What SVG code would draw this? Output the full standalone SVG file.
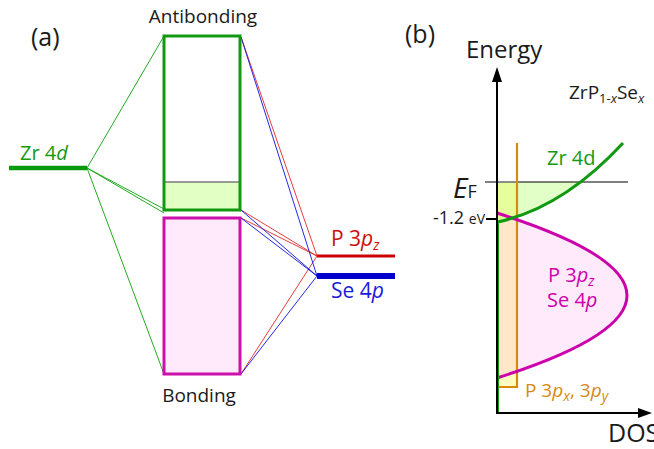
<svg xmlns="http://www.w3.org/2000/svg" width="654" height="449" viewBox="0 0 654 449">
<defs>
<style>
text{font-family:"Open Sans","Noto Sans","Liberation Sans",sans-serif;}
.lbl{font-size:19px;fill:#1a1a1a;}
.g{stroke:#22aa22;stroke-width:1;fill:none;}
.r{stroke:#e02828;stroke-width:0.9;fill:none;}
.b{stroke:#1010dd;stroke-width:0.9;fill:none;}
.ax{stroke:#000;stroke-width:2;fill:none;}
</style>
</defs>
<rect width="654" height="449" fill="#fff"/>
<text x="31" y="46" style="font-size:25px" fill="#1a1a1a">(a)</text>
<text x="405" y="43" style="font-size:25px" fill="#1a1a1a">(b)</text>

<g id="connectors">
<path class="g" d="M87,168 L164,36 M87,168 L164,209 M87,168 L164,213 M87,168 L164,374"/>
<path class="r" d="M241,37 L317,256 M241,210 L317,256 M241,218 L317,256 M241,374 L317,256"/>
<path class="b" d="M241,37 L317,276 M241,210 L317,276 M241,218 L317,276 M241,374 L317,276"/>
</g>

<g id="zr4d">
<line x1="9" y1="168" x2="87" y2="168" stroke="#0a990a" stroke-width="4.5"/>
<text x="20" y="160" style="font-size:20px" fill="#149a14">Zr 4<tspan font-style="italic">d</tspan></text>
</g>

<g id="antibonding">
<rect x="164" y="182" width="76" height="28" fill="#e2ffc4"/>
<line x1="164" y1="182" x2="240" y2="182" stroke="#7a7a7a" stroke-width="1.5"/>
<rect x="164" y="36" width="76" height="174" fill="none" stroke="#119911" stroke-width="3"/>
<text x="203" y="23" class="lbl" text-anchor="middle">Antibonding</text>
</g>

<g id="bonding">
<rect x="164" y="218" width="76" height="156" fill="#feeafb" stroke="#cc11aa" stroke-width="3"/>
<text x="199" y="402" class="lbl" text-anchor="middle">Bonding</text>
</g>

<g id="p3pz">
<line x1="317" y1="256" x2="395" y2="256" stroke="#cc0000" stroke-width="3"/>
<text x="331" y="246" style="font-size:21px" fill="#cc1010">P 3<tspan font-style="italic">p</tspan><tspan font-style="italic" font-size="14" dy="4">z</tspan></text>
</g>

<g id="se4p">
<line x1="317" y1="276" x2="395" y2="276" stroke="#0000cc" stroke-width="6"/>
<text x="331" y="298" style="font-size:21px" fill="#1a1add">Se 4<tspan font-style="italic">p</tspan></text>
</g>

<g id="dos">
<rect x="497" y="182" width="20" height="205" fill="#ffffc0"/>
<path d="M497,213 Q757,295.5 497,378 Z" fill="#feeafb"/>
<path d="M497,213 L517,219.5 L517,372 L497,378 Z" fill="#ffe8c8"/>
<path d="M497,182 L584,182 C560,197 535,211 517,217 C508,219 502,221 497,222 Z" fill="#e2ffc8"/>
<path d="M497,182 L517,182 L517,217 C508,219 502,221 497,222 Z" fill="#e6ff9c"/>
<line x1="485" y1="182" x2="628" y2="182" stroke="#000" stroke-width="1.2"/>
<line x1="497" y1="182" x2="517" y2="182" stroke="#999" stroke-width="1.2"/>
<path d="M517,143 L517,387 L497,387" fill="none" stroke="#d68a10" stroke-width="2.2"/>
<path d="M497,213 Q757,295.5 497,378" fill="none" stroke="#cc00aa" stroke-width="3"/>
<path d="M497.5,412 L497.5,222 C530,215 575,195 623,143" fill="none" stroke="#119911" stroke-width="3"/>
<line x1="497.5" y1="222" x2="497.5" y2="412" stroke="#22aa22" stroke-width="1.5"/>
<line x1="497" y1="413" x2="497" y2="80" class="ax"/>
<path d="M497,67 L502,82 L492,82 Z" fill="#000"/>
<line x1="496" y1="413" x2="640" y2="413" class="ax"/>
<path d="M652,413 L638,408 L638,418 Z" fill="#000"/>
<line x1="486" y1="219" x2="497" y2="219" stroke="#000" stroke-width="2"/>
<text x="466" y="58" style="font-size:24px" fill="#1a1a1a">Energy</text>
<text x="608" y="442" style="font-size:25px" fill="#1a1a1a">DOS</text>
<text x="569" y="99" style="font-size:19px" fill="#1a1a1a">ZrP<tspan font-size="13" dy="4">1-</tspan><tspan font-size="13" font-style="italic">x</tspan><tspan dy="-4">Se</tspan><tspan font-size="13" font-style="italic" dy="4">x</tspan></text>
<text x="453" y="198" style="font-size:28px;font-style:italic" fill="#1a1a1a">E<tspan font-style="normal" font-size="18">F</tspan></text>
<text x="485" y="224" text-anchor="end" fill="#1a1a1a"><tspan font-size="18">-1.2 </tspan><tspan font-size="14">eV</tspan></text>
<text x="547" y="165" style="font-size:20px" fill="#149a14">Zr 4d</text>
<text x="548" y="282" style="font-size:20px" fill="#cc00aa">P 3<tspan font-style="italic">p</tspan><tspan font-style="italic" font-size="14" dy="4">z</tspan></text>
<text x="547" y="307" style="font-size:20px" fill="#cc00aa">Se 4<tspan font-style="italic">p</tspan></text>
<text x="525" y="397" style="font-size:19px" fill="#d68a10">P 3<tspan font-style="italic">p</tspan><tspan font-style="italic" font-size="14" dy="4">x</tspan><tspan dy="-4">, 3</tspan><tspan font-style="italic">p</tspan><tspan font-style="italic" font-size="14" dy="4">y</tspan></text>
</g>
</svg>
